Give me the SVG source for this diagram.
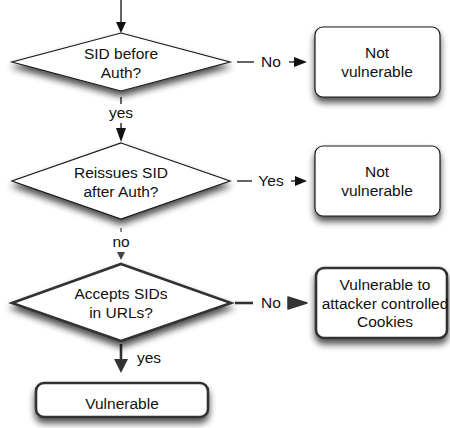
<svg xmlns="http://www.w3.org/2000/svg" width="450" height="428" viewBox="0 0 450 428">
<style>
text{font-family:"Liberation Sans",Arial,sans-serif;font-size:15.5px;fill:#111;text-anchor:middle}
.shape{fill:#fff;stroke:#1a1a1a}
.thin{stroke-width:1.2}
.thick{stroke-width:2.6;stroke:#333}
.ln{stroke:#111;stroke-width:1.3;fill:none}
.lnt{stroke:#333;stroke-width:2.6;fill:none}
.lng{stroke:#555;stroke-width:1.3;fill:none}
</style>
<defs>
<filter id="sh" x="-20%" y="-20%" width="140%" height="160%">
<feGaussianBlur in="SourceAlpha" stdDeviation="3.5"/>
<feOffset dx="0" dy="5" result="b"/>
<feComponentTransfer><feFuncA type="linear" slope="0.7"/></feComponentTransfer>
<feMerge><feMergeNode/><feMergeNode in="SourceGraphic"/></feMerge>
</filter>
</defs>
<g id="connectors">
<line class="ln" x1="121" y1="0" x2="121" y2="24"/>
<polygon points="116,22 126,22 121,33" fill="#111"/>
<line class="ln" x1="121" y1="97" x2="121" y2="104"/>
<text x="121" y="118">yes</text>
<line class="ln" x1="121" y1="123" x2="121" y2="132"/>
<polygon points="116,128 126,128 121,142" fill="#111"/>
<line class="lng" x1="121" y1="228" x2="121" y2="232"/>
<text x="121" y="247">no</text>
<polygon points="117,252 125,252 121,260" fill="#444"/>
<line class="lnt" x1="121" y1="344" x2="121" y2="362"/>
<polygon points="114,359 128,359 121,373" fill="#333"/>
<text x="149" y="363">yes</text>
<line class="ln" x1="237" y1="62" x2="254" y2="62"/>
<text x="271" y="67">No</text>
<line class="ln" x1="289" y1="62" x2="296" y2="62"/>
<polygon points="294,57 307,62 294,67" fill="#111"/>
<line class="ln" x1="237" y1="181" x2="252" y2="181"/>
<text x="271" y="186">Yes</text>
<line class="ln" x1="291" y1="181" x2="297" y2="181"/>
<polygon points="295,176 307,181 295,186" fill="#111"/>
<line class="lnt" x1="235" y1="303" x2="253" y2="303"/>
<text x="271" y="308">No</text>
<polygon points="288,297 307,303 288,309" fill="#333" stroke="#333" stroke-width="1.5" stroke-linejoin="round"/>
</g>
<g id="d1">
<polygon class="shape thin" filter="url(#sh)" points="121,33 230,62 121,91 12,62"/>
<text x="121" y="59">SID before</text>
<text x="121" y="78">Auth?</text>
</g>
<g id="d2">
<polygon class="shape thin" filter="url(#sh)" points="121,143 230,181 121,219 12,181"/>
<text x="121" y="178">Reissues SID</text>
<text x="121" y="197">after Auth?</text>
</g>
<g id="d3">
<polygon class="shape thick" filter="url(#sh)" points="121,264 231,303 121,341 12,303"/>
<text x="121" y="299">Accepts SIDs</text>
<text x="121" y="318">in URLs?</text>
</g>
<g id="b1">
<rect class="shape thin" filter="url(#sh)" x="315" y="27" width="125" height="70" rx="8"/>
<text x="377" y="58">Not</text>
<text x="377" y="77">vulnerable</text>
</g>
<g id="b2">
<rect class="shape thin" filter="url(#sh)" x="315" y="146" width="125" height="70" rx="8"/>
<text x="377" y="177">Not</text>
<text x="377" y="196">vulnerable</text>
</g>
<g id="b3">
<rect class="shape thick" filter="url(#sh)" x="316" y="268" width="131" height="70" rx="8"/>
<text x="385" y="290">Vulnerable to</text>
<text x="385" y="308.5">attacker controlled</text>
<text x="385" y="327">Cookies</text>
</g>
<g id="v">
<rect class="shape thick" filter="url(#sh)" x="36" y="383" width="172" height="34" rx="8"/>
<text x="122" y="409">Vulnerable</text>
</g>
</svg>
